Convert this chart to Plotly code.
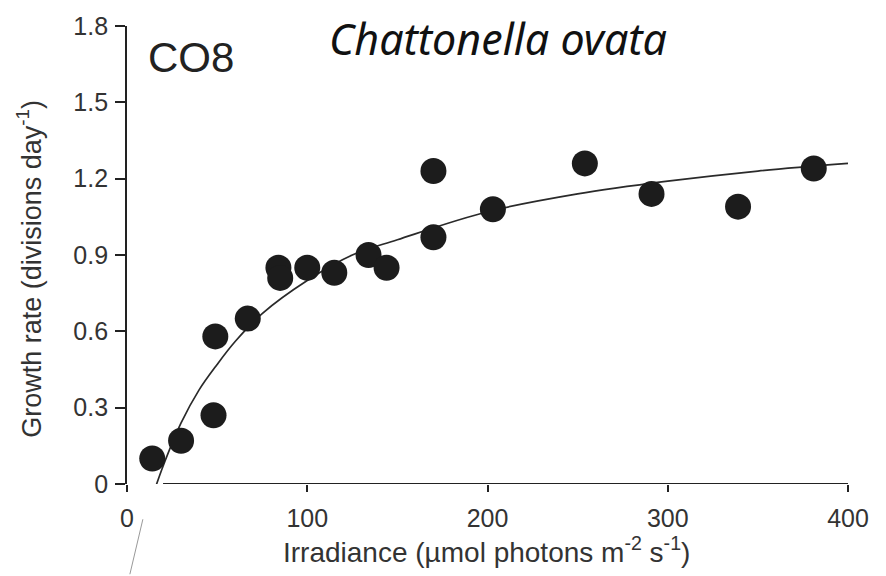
import plotly.graph_objects as go

# Measured points
irradiance = [14, 30, 48, 49, 67, 84, 85, 100, 115, 134, 144, 170, 170, 203, 254, 291, 339, 381]
growth = [0.10, 0.17, 0.27, 0.58, 0.65, 0.85, 0.81, 0.85, 0.83, 0.90, 0.85, 0.97, 1.23, 1.08, 1.26, 1.14, 1.09, 1.24]

# Fitted curve
curve_x = [15, 20, 30, 40, 50, 60, 75, 100, 125, 150, 200, 250, 300, 350, 400]
curve_y = [-0.03, 0.07, 0.24, 0.37, 0.47, 0.56, 0.67, 0.80, 0.90, 0.96, 1.07, 1.14, 1.19, 1.23, 1.26]

x_ticks = [0, 100, 200, 300, 400]
y_ticks = [0, 0.3, 0.6, 0.9, 1.2, 1.5, 1.8]
y_tick_labels = ["0", "0.3", "0.6", "0.9", "1.2", "1.5", "1.8"]

fig = go.Figure()
fig.add_trace(go.Scatter(x=curve_x, y=curve_y, mode="lines", line=dict(color="#2a2a2a", width=1.7, shape="spline"),
                         hoverinfo="skip", showlegend=False))
fig.add_trace(go.Scatter(x=irradiance, y=growth, mode="markers",
                         marker=dict(size=26, color="#1c1c1c", line=dict(width=0)), showlegend=False))

sans = "Liberation Sans, Arial, sans-serif"
axis_font = dict(family=sans, size=25, color="#333333")
fig.update_layout(
    width=886, height=576,
    margin=dict(l=127, r=38, t=17, b=92),
    paper_bgcolor="white", plot_bgcolor="white",
    font=dict(family=sans, color="#333333"),
    xaxis=dict(range=[0, 400], tickvals=x_ticks, ticks="outside", ticklen=7, tickwidth=1.5, tickcolor="#222",
               showline=False, showgrid=False, zeroline=False, tickfont=axis_font, ticklabelstandoff=5),
    yaxis=dict(range=[0, 1.8], tickvals=y_ticks, ticktext=y_tick_labels, ticks="outside", ticklen=10, tickwidth=1.5,
               tickcolor="#222", showline=True, linecolor="#222", linewidth=1.8, showgrid=False, zeroline=False,
               tickfont=axis_font, ticklabelstandoff=2),
    shapes=[
        dict(type="line", xref="x", yref="y", x0=20, x1=400, y0=0, y1=0, line=dict(color="#222", width=1.8)),
        dict(type="line", xref="paper", yref="paper", x0=0.022, y0=-0.077, x1=0.004, y1=-0.197,
             line=dict(color="#999", width=1)),
    ],
    annotations=[
        dict(text="Irradiance (µmol photons m<sup>-2</sup> s<sup>-1</sup>)", xref="paper", yref="paper",
             x=0.4986, y=-0.1445, xanchor="center", yanchor="middle", showarrow=False,
             font=dict(family=sans, size=28, color="#333")),
        dict(text="Growth rate (divisions day<sup>-1</sup>)", xref="paper", yref="paper", textangle=-90,
             x=-0.135, y=0.469, xanchor="center", yanchor="middle", showarrow=False,
             font=dict(family=sans, size=27, color="#333")),
        dict(text="CO8", xref="paper", yref="paper", x=0.026, y=0.931, xanchor="left", yanchor="middle",
             showarrow=False, font=dict(family=sans, size=42, color="#222")),
        dict(text="<i>Chattonella ovata</i>", xref="paper", yref="paper", x=0.5146, y=0.972, xanchor="center",
             yanchor="middle", showarrow=False, font=dict(family="Noto Sans, sans-serif", size=43, color="#111")),
    ],
)

fig.write_html("out.html")
